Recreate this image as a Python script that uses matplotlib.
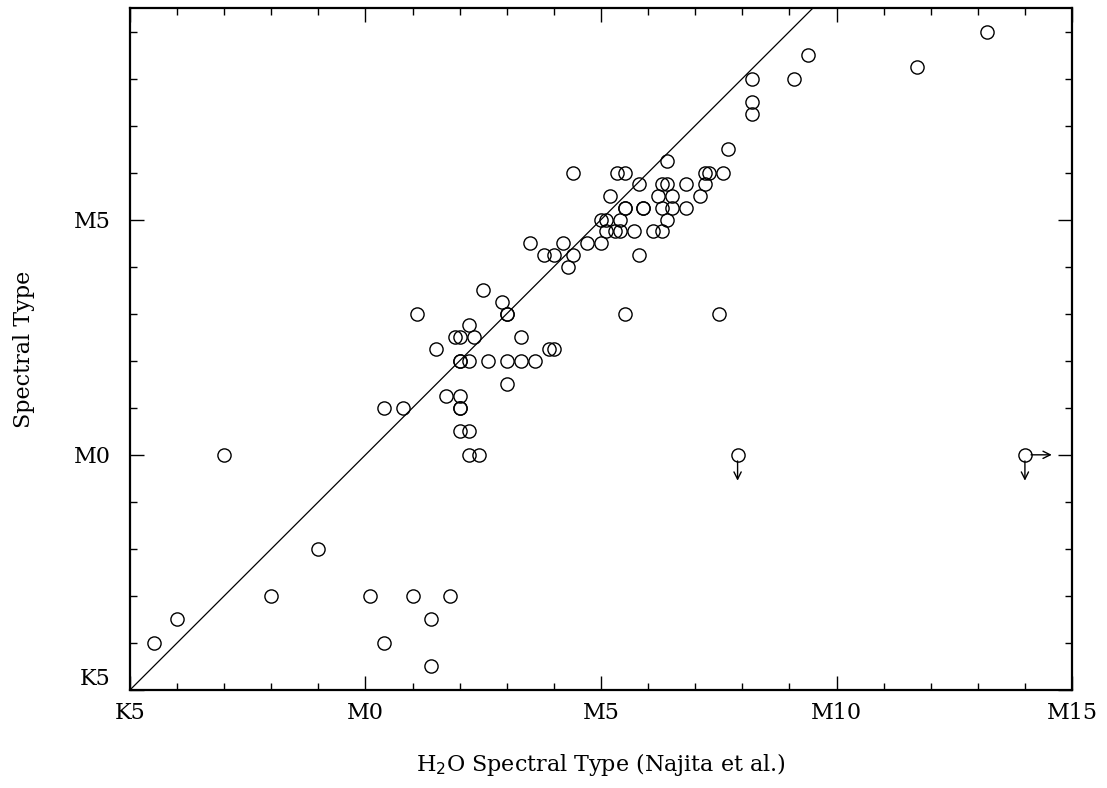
import matplotlib
matplotlib.use("Agg")
import matplotlib.pyplot as plt

# spectral types as numbers: M0 = 0, K5 = -5, M5 = 5 ...
h2o_sp = [-4.5, -4.0, -3.0, -2.0, -1.0, 0.1, 0.4, 1.0, 1.4, 1.4, 1.8,
          0.4, 0.8, 1.1, 1.5, 1.7, 1.9, 2.0, 2.0, 2.0, 2.0, 2.0, 2.0, 2.0,
          2.2, 2.2, 2.4, 2.2, 2.3, 2.2, 2.5, 2.6, 2.9, 3.0, 3.0, 3.0, 3.0,
          3.3, 3.3, 3.6, 3.5, 3.8, 3.9, 4.0, 4.0, 4.2, 4.3, 4.4, 4.4, 4.7,
          5.0, 5.0, 5.1, 5.1, 5.2, 5.3, 5.4, 5.4, 5.35, 5.5, 5.5, 5.5, 5.5,
          5.7, 5.8, 5.8, 5.9, 5.9, 6.1, 6.2, 6.3, 6.3, 6.3, 6.4, 6.4, 6.4,
          6.5, 6.5, 6.8, 6.8, 7.1, 7.2, 7.2, 7.3, 7.5, 7.6, 7.7,
          8.2, 8.2, 8.2, 9.1, 9.4, 11.7, 13.2]
opt_sp = [-4.0, -3.5, 0.0, -3.0, -2.0, -3.0, -4.0, -3.0, -3.5, -4.5, -3.0,
          1.0, 1.0, 3.0, 2.25, 1.25, 2.5, 2.5, 2.0, 2.0, 1.25, 1.0, 1.0, 0.5,
          0.5, 0.0, 0.0, 2.75, 2.5, 2.0, 3.5, 2.0, 3.25, 3.0, 3.0, 2.0, 1.5,
          2.5, 2.0, 2.0, 4.5, 4.25, 2.25, 2.25, 4.25, 4.5, 4.0, 4.25, 6.0, 4.5,
          5.0, 4.5, 5.0, 4.75, 5.5, 4.75, 4.75, 5.0, 6.0, 6.0, 5.25, 5.25, 3.0,
          4.75, 5.75, 4.25, 5.25, 5.25, 4.75, 5.5, 5.75, 5.25, 4.75, 6.25, 5.75, 5.0,
          5.5, 5.25, 5.75, 5.25, 5.5, 5.75, 6.0, 6.0, 3.0, 6.0, 6.5,
          8.0, 7.5, 7.25, 8.0, 8.5, 8.25, 9.0]

# upper limits (arrow down), second one also a lower limit in H2O type
lim_x = [7.9, 14.0]
lim_y = [0.0, 0.0]
lim_right = [False, True]

tick_pos = [-5, 0, 5, 10, 15]
tick_lab = ["K5", "M0", "M5", "M10", "M15"]

plt.rcParams["font.family"] = "DejaVu Serif"

fig = plt.figure(figsize=(11.07, 7.88), dpi=100)
ax = fig.add_axes([0.1174, 0.1244, 0.851, 0.8654])

ax.plot([-5, 10], [-5, 10], color="k", lw=0.9)
ax.plot(h2o_sp, opt_sp, "o", ms=9.5, mfc="none", mec="k", mew=1.0)
ax.plot(lim_x, lim_y, "o", ms=9.5, mfc="none", mec="k", mew=1.0)
for x, y, r in zip(lim_x, lim_y, lim_right):
    ax.annotate("", xy=(x, y - 0.55), xytext=(x, y - 0.13),
                arrowprops=dict(arrowstyle="->", lw=1.0, color="k",
                                mutation_scale=13, shrinkA=0, shrinkB=0))
    if r:
        ax.annotate("", xy=(x + 0.57, y), xytext=(x + 0.13, y),
                    arrowprops=dict(arrowstyle="->", lw=1.0, color="k",
                                    mutation_scale=13, shrinkA=0, shrinkB=0))

ax.set_xlim(-5, 15)
ax.set_ylim(-5, 9.5)
ax.set_xticks(tick_pos)
ax.set_xticklabels(tick_lab)
ax.set_yticks(tick_pos[:3])
ax.set_yticklabels(tick_lab[:3])
ax.set_xticks(range(-5, 16), minor=True)
ax.set_yticks(range(-5, 10), minor=True)

ax.tick_params(which="both", direction="in", top=True, right=True, width=1.0)
ax.tick_params(which="major", length=10, labelsize=16)
ax.tick_params(axis="x", which="major", pad=9)
ax.tick_params(axis="y", which="major", pad=14)
ax.tick_params(which="minor", length=5)
for s in ax.spines.values():
    s.set_linewidth(1.6)

# the bottom K5 on the y axis sits just above the corner
ax.get_yticklabels()[0].set_va("bottom")

ax.set_xlabel("H$_2$O Spectral Type (Najita et al.)", fontsize=16, labelpad=19)
ax.set_ylabel("Spectral Type", fontsize=16, labelpad=28)

fig.savefig("out.png", dpi=100)
